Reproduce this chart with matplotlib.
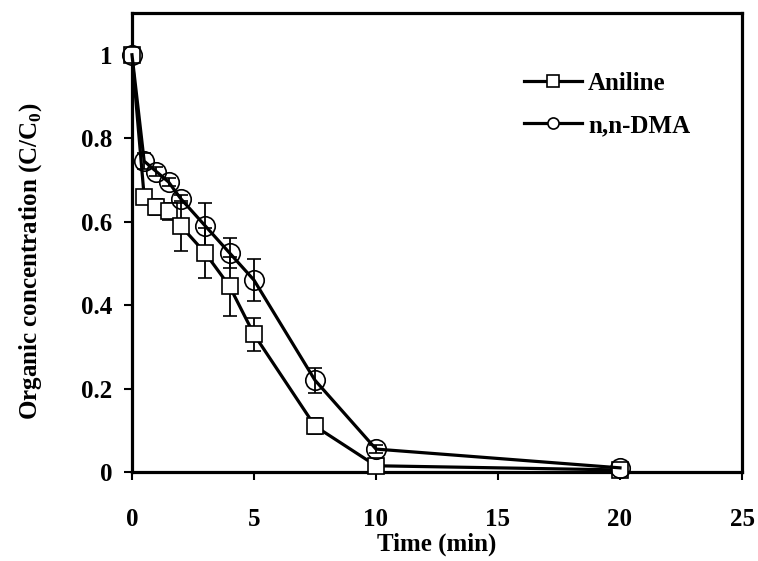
import numpy as np
import matplotlib
matplotlib.use("Agg")
import matplotlib.pyplot as plt
from matplotlib.lines import Line2D

plt.rcParams['font.family'] = ['Liberation Serif', 'DejaVu Serif']
plt.rcParams['font.weight'] = 'bold'
plt.rcParams['mathtext.fontset'] = 'custom'
plt.rcParams['mathtext.rm'] = 'Liberation Serif:bold'
plt.rcParams['mathtext.bf'] = 'Liberation Serif:bold'

# sampling times (min)
time = [0, 0.5, 1, 1.5, 2, 3, 4, 5, 7.5, 10, 20]

# C/C0 for each compound, with standard deviations
aniline = [1.0, 0.66, 0.635, 0.625, 0.59, 0.525, 0.445, 0.33, 0.11, 0.015, 0.005]
aniline_err = [0.005, 0.01, 0.02, 0.02, 0.06, 0.06, 0.07, 0.04, 0.02, 0.015, 0.01]
dma = [1.0, 0.745, 0.72, 0.695, 0.655, 0.59, 0.525, 0.46, 0.22, 0.055, 0.01]
dma_err = [0.005, 0.02, 0.01, 0.01, 0.01, 0.055, 0.035, 0.05, 0.03, 0.01, 0.005]

fig = plt.figure(figsize=(7.58, 5.61), dpi=100)
ax = fig.add_axes([0.1741, 0.1586, 0.8048, 0.8182])

ax.errorbar(time, aniline, yerr=aniline_err, fmt='-s', color='black', lw=2.3,
            ms=11, mfc='white', mec='black', mew=1.2, elinewidth=1.3,
            capsize=5, capthick=1.3, clip_on=False, zorder=3)
ax.errorbar(time, dma, yerr=dma_err, fmt='-o', color='black', lw=2.3,
            ms=14, mfc='none', mec='black', mew=1.2, elinewidth=1.3,
            capsize=5, capthick=1.3, clip_on=False, zorder=3)

ax.set_xlim(0, 25)
ax.set_ylim(0, 1.1)
ax.set_xticks([0, 5, 10, 15, 20, 25])
ax.set_yticks([0, 0.2, 0.4, 0.6, 0.8, 1.0])
ax.set_yticklabels(['0', '0.2', '0.4', '0.6', '0.8', '1'])
ax.tick_params(direction='out', length=6, width=1.5, labelsize=18, pad=8)
ax.tick_params(axis='x', pad=20)
for s in ax.spines.values():
    s.set_linewidth(2.3)

ax.set_xlabel('Time (min)', fontsize=18, fontweight='bold')
ax.xaxis.set_label_coords(0.5, -0.133)
ax.set_ylabel('Organic concentration (C/C$_\\mathrm{0}$)', fontsize=18,
              fontweight='bold')
ax.yaxis.set_label_coords(-0.145, 0.46)

handles = [
    Line2D([], [], color='black', lw=2.3, marker='s', ms=8, mfc='white', mec='black', mew=1.2),
    Line2D([], [], color='black', lw=2.3, marker='o', ms=8, mfc='white', mec='black', mew=1.2),
]
ax.legend(handles, ['Aniline', 'n,n-DMA'], loc='upper right', bbox_to_anchor=(0.952, 0.92),
          frameon=False, prop={'size': 18, 'weight': 'bold'}, handlelength=2.3,
          handletextpad=0.25, labelspacing=0.75)

fig.savefig('out.png', dpi=100)
